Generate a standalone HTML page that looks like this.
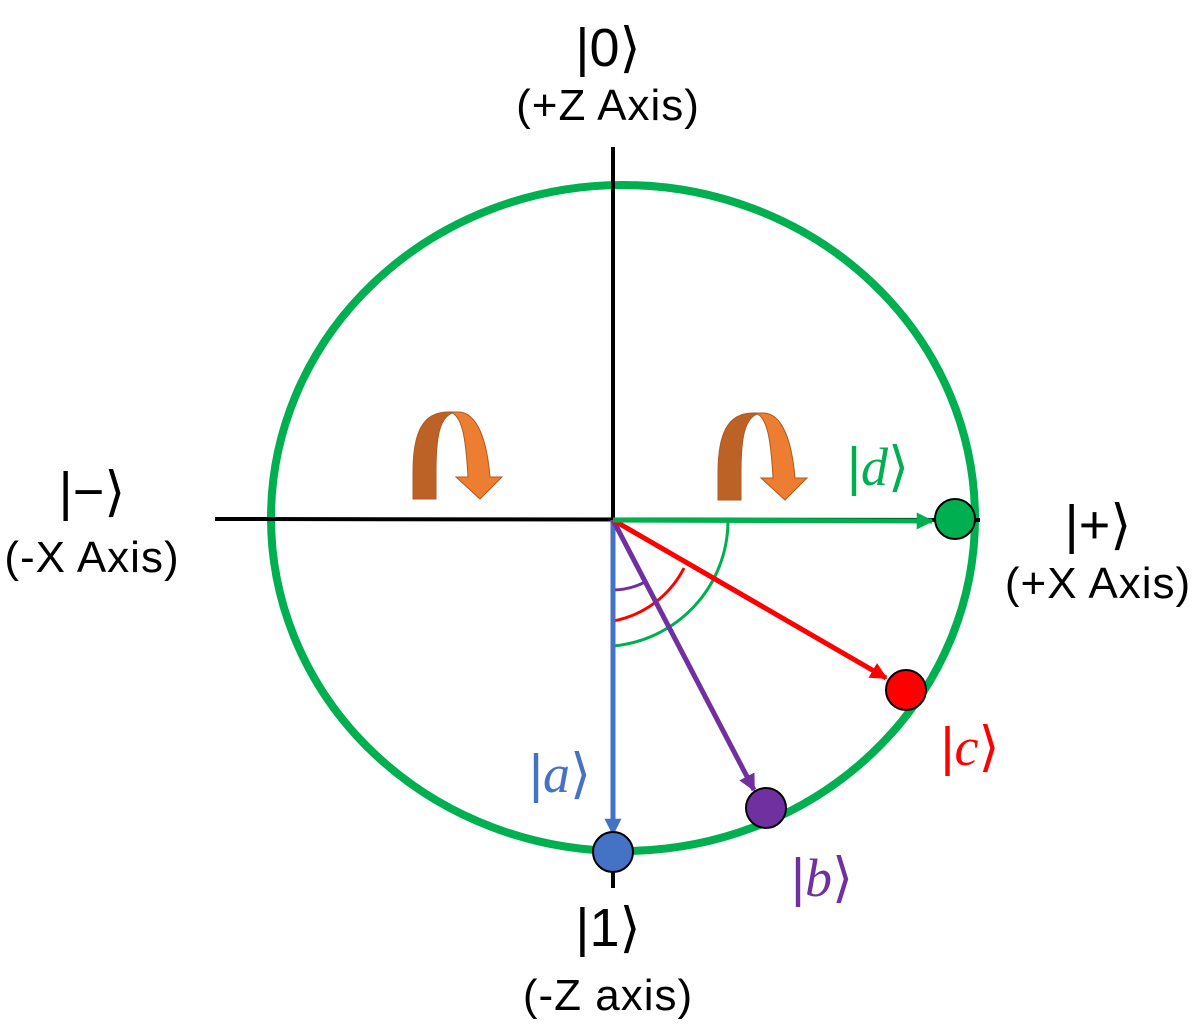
<!DOCTYPE html>
<html><head><meta charset="utf-8"><style>
body{margin:0;background:#fff}
svg text{font-family:"Liberation Sans","DejaVu Sans",sans-serif}
.m{font-family:"Liberation Serif","DejaVu Serif",serif;font-style:italic}
</style></head><body>
<svg width="1198" height="1031" viewBox="0 0 1198 1031" xmlns="http://www.w3.org/2000/svg">
<defs>
<marker id="ab" viewBox="0 0 10 10" refX="9" refY="5" markerWidth="3.4" markerHeight="3.4" orient="auto"><path d="M0,0L10,5L0,10z" fill="#4472c4"/></marker>
<marker id="ap" viewBox="0 0 10 10" refX="9" refY="5" markerWidth="3.4" markerHeight="3.4" orient="auto"><path d="M0,0L10,5L0,10z" fill="#7030a0"/></marker>
<marker id="ar" viewBox="0 0 10 10" refX="9" refY="5" markerWidth="3.4" markerHeight="3.4" orient="auto"><path d="M0,0L10,5L0,10z" fill="#ff0000"/></marker>
<marker id="ag" viewBox="0 0 10 10" refX="9" refY="5" markerWidth="3.4" markerHeight="3.4" orient="auto"><path d="M0,0L10,5L0,10z" fill="#00b050"/></marker>
<g id="curl">
<path d="M0,87 L0,60 C0,20 10,0 35,0 L45,0 C25,0 23,30 23,60 L23,87 Z" fill="#bd6226" stroke="#ae5a21" stroke-width="1"/>
<path d="M35,0 L45,0 C65,0 74,30 77,65 L89,65 L67,87 L43,65 L55,65 C53,30 50,0 35,0 Z" fill="#ed7d31" stroke="#ae5a21" stroke-width="1"/>
</g>
</defs>
<ellipse cx="623" cy="518" rx="352" ry="333" fill="none" stroke="#00b050" stroke-width="8"/>
<line x1="215" y1="519" x2="980" y2="520" stroke="#000" stroke-width="4"/>
<line x1="613" y1="147" x2="613" y2="888" stroke="#000" stroke-width="4"/>
<path d="M613,590 A70,70 0 0 0 645,582" fill="none" stroke="#7030a0" stroke-width="3"/>
<path d="M613,621 A100,100 0 0 0 684,568" fill="none" stroke="#ff0000" stroke-width="3"/>
<path d="M613,646 A126,126 0 0 0 728,522" fill="none" stroke="#00b050" stroke-width="3"/>
<line x1="613" y1="520" x2="613" y2="834" stroke="#4472c4" stroke-width="5" marker-end="url(#ab)"/>
<line x1="613" y1="520" x2="754" y2="790" stroke="#7030a0" stroke-width="5" marker-end="url(#ap)"/>
<line x1="613" y1="520" x2="886" y2="678" stroke="#ff0000" stroke-width="5" marker-end="url(#ar)"/>
<line x1="613" y1="520" x2="932" y2="521" stroke="#00b050" stroke-width="5" marker-end="url(#ag)"/>
<circle cx="613" cy="852" r="20" fill="#4472c4" stroke="#000" stroke-width="2"/>
<circle cx="766" cy="808" r="20" fill="#7030a0" stroke="#000" stroke-width="2"/>
<circle cx="906" cy="690" r="20" fill="#ff0000" stroke="#000" stroke-width="2"/>
<circle cx="955" cy="519" r="20" fill="#00b050" stroke="#000" stroke-width="2"/>
<use href="#curl" x="413" y="412"/>
<use href="#curl" x="718" y="413"/>
<g font-size="44" text-anchor="middle" fill="#000" letter-spacing="1">
<text x="608" y="120">(+Z Axis)</text>
<text x="92" y="572">(-X Axis)</text>
<text x="1098" y="598">(+X Axis)</text>
<text x="608" y="1010">(-Z axis)</text>
</g>
<g font-size="54" text-anchor="middle" fill="#000">
<text x="608" y="66">|0⟩</text>
<text x="92" y="510">|−⟩</text>
<text x="1098" y="543">|+⟩</text>
<text x="608" y="946">|1⟩</text>
</g>
<g font-size="54" text-anchor="middle">
<text x="560" y="792" fill="#4472c4">|<tspan class="m">a</tspan>⟩</text>
<text x="822" y="896" fill="#7030a0">|<tspan class="m">b</tspan>⟩</text>
<text x="970" y="765" fill="#ff0000">|<tspan class="m">c</tspan>⟩</text>
<text x="878" y="485" fill="#00b050">|<tspan class="m">d</tspan>⟩</text>
</g>
</svg>
</body></html>
